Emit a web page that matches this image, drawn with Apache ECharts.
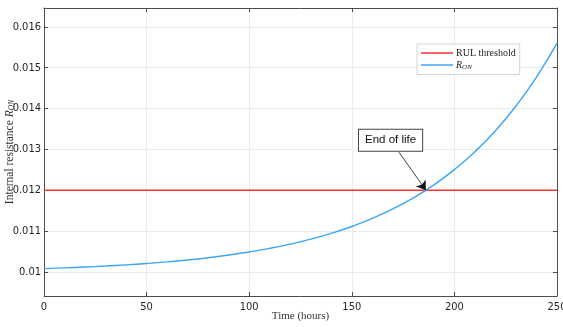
<!DOCTYPE html>
<html>
<head>
<meta charset="utf-8">
<script src="https://cdn.jsdelivr.net/npm/echarts@6/dist/echarts.min.js"></script>
<style>
html,body{margin:0;padding:0;background:#fff;}
#chart{width:563px;height:327px;}
</style>
</head>
<body>
<div id="chart"></div>
<script>
// ---- data ----
const timeHours = [0,10,20,30,40,50,60,70,80,90,100,110,120,130,140,150,160,170,180,190,200,210,220,230,240,250];
const ronValues = [0.01008,0.010098,0.010119,0.010143,0.010172,0.010206,0.010246,0.010293,0.010347,0.010412,0.010487,0.010576,0.01068,0.010801,0.010945,0.011112,0.011309,0.011541,0.011812,0.01213,0.012504,0.012942,0.013457,0.014061,0.014769,0.0156];
const thresholdTimes = [0,250];
const thresholdValue = 0.012;
const xTicks = [0,50,100,150,200,250];
const yTicks = [0.01,0.011,0.012,0.013,0.014,0.015,0.016];
const eolPoint = [186.1, 0.012];
const eolArrowStart = [173, 0.01293];
const eolBoxCenter = [168.9, 0.013225];
const eolLabel = 'End of life';

const axisColor = '#4d4d4d';
const gridColor = '#ebebeb';
const sans = 'Liberation Sans';
const narrow = '"Liberation Sans Narrow", "DejaVu Sans Condensed", "Liberation Sans", sans-serif';
const serif = 'Liberation Serif';

const chart = echarts.init(document.getElementById('chart'), null, {renderer:'canvas'});
const thresholdData = thresholdTimes.map(t => [t, thresholdValue]);
const ronData = timeHours.map((t,i) => [t, ronValues[i]]);

const yMin = 0.00941, yMax = 0.01646;

chart.setOption({
  animation:false,
  backgroundColor:'#fff',
  grid:{left:44, right:6, top:8, bottom:31, containLabel:false, outerBoundsMode:'none'},
  legend:{
    orient:'vertical', left:417, top:44,
    data:['RUL threshold','RON'],
    icon:'rect', itemWidth:32, itemHeight:1.5, itemGap:2,
    padding:[4,4,4,4],
    backgroundColor:'#fff', borderColor:'#d4d4d4', borderWidth:1,
    formatter: n => n === 'RON' ? '{i|R}{s|ON}' : n,
    textStyle:{fontFamily:serif, fontSize:10, color:'#222', padding:[0,0,0,-2],
      rich:{ i:{fontFamily:serif, fontStyle:'italic', fontSize:10, color:'#222'},
             s:{fontFamily:serif, fontStyle:'italic', fontSize:7, color:'#222', verticalAlign:'bottom', padding:[4,0,0,0]} }}
  },
  xAxis:[{
    type:'value', min:0, max:250, interval:50,
    name:'Time (hours)', nameLocation:'middle', nameGap:15, nameMoveOverlap:false,
    nameTextStyle:{fontFamily:serif, fontSize:11, color:'#333'},
    axisLine:{show:true, lineStyle:{color:axisColor, width:1}},
    axisTick:{show:true, inside:true, length:4, lineStyle:{color:axisColor}},
    axisLabel:{show:true, fontFamily:narrow, fontSize:11, color:'#262626', margin:6, hideOverlap:false},
    splitLine:{show:true, lineStyle:{color:gridColor, width:1}}
  },{
    type:'value', min:0, max:250, interval:50, position:'top',
    axisLine:{show:true, onZero:false, lineStyle:{color:axisColor, width:1}},
    axisTick:{show:true, inside:true, length:4, lineStyle:{color:axisColor}},
    axisLabel:{show:false}, splitLine:{show:false}
  }],
  yAxis:[{
    type:'value', min:yMin, max:yMax,
    name:'{a|Internal resistance }{b|R}{c|ON}', nameLocation:'middle', nameGap:28, nameRotate:90, nameMoveOverlap:false,
    nameTextStyle:{fontFamily:serif, fontSize:11.5, color:'#333',
      rich:{a:{fontFamily:serif, fontSize:11.5, color:'#333'},
            b:{fontFamily:serif, fontStyle:'italic', fontSize:11.5, color:'#333'},
            c:{fontFamily:serif, fontStyle:'italic', fontSize:7.5, color:'#333', verticalAlign:'bottom', padding:[5,0,0,0]}}},
    axisLine:{show:true, onZero:false, lineStyle:{color:axisColor, width:1}},
    axisTick:{show:true, inside:true, length:4, customValues:yTicks, lineStyle:{color:axisColor}},
    axisLabel:{show:true, customValues:yTicks, fontFamily:narrow, fontSize:11, color:'#262626', margin:3,
      formatter: v => String(+v.toFixed(4))},
    splitLine:{show:true, lineStyle:{color:gridColor, width:1}}
  },{
    type:'value', min:yMin, max:yMax, position:'right',
    axisLine:{show:true, onZero:false, lineStyle:{color:axisColor, width:1}},
    axisTick:{show:true, inside:true, length:4, customValues:yTicks, lineStyle:{color:axisColor}},
    axisLabel:{show:false}, splitLine:{show:false}
  }],
  series:[{
    name:'RUL threshold', type:'line', data:thresholdData, showSymbol:false, symbol:'none',
    lineStyle:{color:'#ff3030', width:1.6}, itemStyle:{color:'#ff3030'}, z:3,
    markLine:{
      silent:true, symbol:['none','arrow'], symbolSize:9,
      lineStyle:{color:'#111', width:0.8, type:'solid'},
      itemStyle:{color:'#111'},
      label:{show:false},
      data:[[{coord:eolArrowStart, symbol:'none'},{coord:eolPoint, symbol:'arrow', symbolSize:9}]]
    },
    markPoint:{
      silent:true,
      data:[{coord:eolBoxCenter, symbol:'rect', symbolSize:0.01,
        itemStyle:{color:'rgba(0,0,0,0)'},
        label:{show:true, position:'inside', formatter:eolLabel, fontFamily:sans, fontSize:11.5, color:'#111',
          backgroundColor:'#fff', borderColor:'#444', borderWidth:1, padding:[5,6,4,6]}}]
    }
  },{
    name:'RON', type:'line', data:ronData, smooth:true, showSymbol:false, symbol:'none',
    lineStyle:{color:'#3aa6f7', width:1.4}, itemStyle:{color:'#3aa6f7'}, z:4
  }]
});
</script>
</body>
</html>
